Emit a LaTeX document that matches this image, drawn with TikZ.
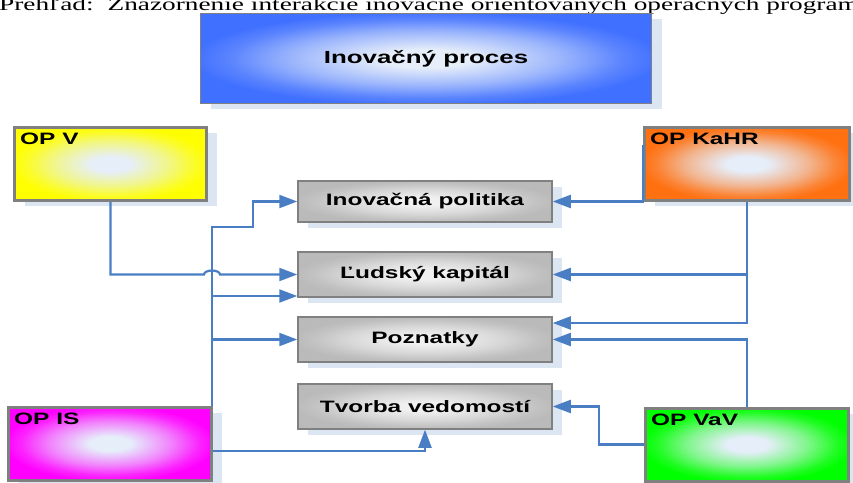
\documentclass[tikz,border=0pt]{standalone}
\usepackage{fontspec}
\setmainfont{Liberation Sans}
\newfontfamily\boxfont{Liberation Sans}[FakeStretch=1.48]
\newfontfamily\capfont{Liberation Serif}[FakeStretch=1.5]
\usetikzlibrary{arrows.meta}
\usetikzlibrary{shadows}
\definecolor{linkblue}{RGB}{74,126,196}
\definecolor{shade}{RGB}{220,230,242}
\definecolor{frame}{RGB}{128,128,128}
\definecolor{glow}{RGB}{230,238,250}
\definecolor{opblue}{RGB}{64,112,255}
\definecolor{opyellow}{RGB}{255,255,0}
\definecolor{oporange}{RGB}{255,112,16}
\definecolor{opmagenta}{RGB}{255,0,255}
\definecolor{opgreen}{RGB}{0,255,0}
\definecolor{boxgray}{RGB}{186,186,186}
\definecolor{boxlight}{RGB}{240,240,240}
\colorlet{boxin}{glow}
\colorlet{boxcol}{opblue}
\pgfdeclareradialshading[boxin,boxcol]{glowbox}{\pgfpoint{0bp}{0bp}}{color(0bp)=(boxin); color(5bp)=(boxin); color(15bp)=(boxcol!45!boxin); color(22bp)=(boxcol!85!boxin); color(26bp)=(boxcol); color(50bp)=(boxcol)}
\tikzset{fillin/.code={\colorlet{boxin}{#1}}, fillout/.code={\colorlet{boxcol}{#1}}}
\newcommand{\bxfont}{\boxfont\bfseries\fontsize{16.5}{18}\selectfont}

\begin{document}
\begin{tikzpicture}[x=1pt, y=1pt]
\tikzstyle{sh} = [drop shadow={shadow xshift=10pt, shadow yshift=-6pt, fill=shade, opacity=1}]
\tikzstyle{op} = [draw=frame, line width=3pt, sh, fillin=glow, shading=glowbox, minimum height=73pt, inner sep=0pt]
\tikzstyle{lbl} = [anchor=north west, inner sep=7pt, font=\bxfont]
\tikzstyle{gbox} = [draw=frame, line width=1.5pt, sh, fillin=boxlight, fillout=boxgray, shading=glowbox, minimum width=254pt, minimum height=45pt, inner sep=0pt, font=\bxfont]
\tikzstyle{link} = [draw=linkblue, line width=2.2pt]
\tikzstyle{arr} = [link, -{Triangle[length=18pt, width=13pt]}]

\useasboundingbox (0,0) rectangle (853,482);
\clip (0,0) rectangle (853,482);

\node[anchor=base west, inner sep=0pt, font=\capfont\fontsize{18.2}{20}\selectfont] (cap) at (-1,471) {Prehľad:\hspace{14pt}Znázornenie interakcie inovačne orientovaných operačných programov};

\node[op, fillout=opblue, line width=1.5pt, minimum width=451pt, minimum height=90pt, font=\boxfont\bfseries\fontsize{17.5}{19}\selectfont] (proc) at (426,423.5) {Inovačný proces};

\node[op, fillout=opyellow, minimum width=192pt] (opv) at (110.5,318) {};
\node[lbl] (opvl) at (opv.north west) {OP V};
\node[op, fillout=oporange, minimum width=205pt] (kahr) at (747,318) {};
\node[lbl] (kahrl) at (kahr.north west) {OP KaHR};
\node[op, fillout=opmagenta, minimum width=203pt] (opis) at (110,38.5) {};
\node[lbl] (opisl) at (opis.north west) {OP IS};
\node[op, fillout=opgreen, minimum width=203pt] (opvav) at (747,37.5) {};
\node[lbl] (opvavl) at (opvav.north west) {OP VaV};

\node[gbox, minimum height=41pt] (ip) at (425,280.5) {Inovačná politika};
\node[gbox] (lk) at (425,207.5) {Ľudský kapitál};
\node[gbox] (pz) at (425,142.5) {Poznatky};
\node[gbox] (tv) at (425,75.5) {Tvorba vedomostí};

\coordinate (isup) at ([xshift=-1pt]opis.north east);

% OP V
\draw[arr] (opv.south) |- ([xshift=-8pt]isup |- lk.west) arc[start angle=180, end angle=0, x radius=8pt, y radius=4pt] -- (lk.west);
% OP IS
\draw[arr] (isup) |- (253,255) |- (ip.west);
\draw[arr] (isup |- 0,186) -- (lk.west |- 0,186);
\draw[arr] (isup |- pz.west) -- (pz.west);
\draw[arr] (opis.east |- 0,31) -| (tv.south);
% OP KaHR
\draw[arr] ([yshift=19pt]kahr.west) |- (ip.east);
\draw[arr] (kahr.south) |- (pz.east |- 0,159);
\draw[arr] (kahr.south |- lk.east) -- (lk.east);
% OP VaV
\draw[arr] (opvav.north) |- (pz.east);
\draw[arr] (opvav.west) -- ++(-45,0) |- (tv.east);
\end{tikzpicture}
\end{document}
